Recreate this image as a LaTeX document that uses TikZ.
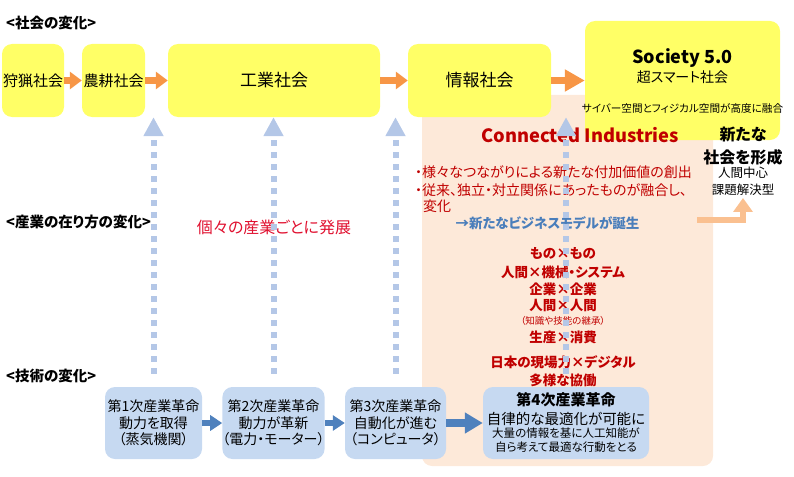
\documentclass[tikz,border=0pt]{standalone}
\usepackage{fontspec}
\setmainfont[RawFeature=+palt]{Noto Sans CJK JP}
\usepackage{tikz}
\usetikzlibrary{arrows.meta, positioning}
\definecolor{lemon}{HTML}{FFFF66}
\definecolor{peach}{HTML}{FDE9D9}
\definecolor{sky}{HTML}{C6D9F1}
\definecolor{dotblue}{HTML}{B4C7E7}
\definecolor{flow}{HTML}{F79646}
\definecolor{paleflow}{HTML}{FAC090}
\definecolor{steel}{HTML}{4F81BD}
\definecolor{darkred}{HTML}{C00000}
\definecolor{brightred}{HTML}{E0102F}
\definecolor{bizblue}{HTML}{4A7EBB}
\newcommand{\fsz}[2]{\fontsize{#1}{#2}\selectfont}
\tikzset{
  society/.style={rectangle, fill=lemon, rounded corners=10pt, align=center, minimum height=73pt, inner sep=0pt, font=\fsz{15}{18}},
  tech/.style={rectangle, fill=sky, rounded corners=10pt, align=center, minimum width=97pt, minimum height=72pt, inner sep=0pt, font=\fsz{14}{16.5}},
  heading/.style={anchor=west, inner sep=0pt, font=\fsz{14.5}{17}\bfseries},
  plain/.style={inner sep=0pt, align=center},
  cross/.style={inner sep=0pt, font=\fsz{13.5}{15}\bfseries, text=darkred},
  bullet/.style={anchor=west, inner sep=0pt, font=\fsz{14}{15}, text=darkred},
  flowarrow/.style={-{Triangle[length=12pt,width=17pt]}, line width=7pt, draw=flow},
  techarrow/.style={-{Triangle[length=12pt,width=15pt]}, line width=6pt, draw=steel},
  dotarrow/.style={-{Triangle[length=19pt,width=19pt]}, line width=6pt, draw=dotblue, dash pattern=on 6pt off 6pt},
  bentarrow/.style={-{Triangle[length=14pt,width=19pt]}, line width=6pt, draw=paleflow},
}
\begin{document}
\begin{tikzpicture}[x=1pt, y=-1pt]
  \useasboundingbox (0,0) rectangle (794,476);
  \fill[peach, rounded corners=10pt] (422,95) rectangle (713,466);
  \node[heading] (h1) at (6,23) {<社会の変化>};
  \node[heading] (h2) at (6,222) {<産業の在り方の変化>};
  \node[heading] (h3) at (6,376) {<技術の変化>};
  \node[society, minimum width=62pt] (hunt) at (33,80.5) {狩猟社会};
  \node[society, minimum width=63pt] (agri) at (113.5,80.5) {農耕社会};
  \node[society, minimum width=212pt, font=\fsz{17}{20}] (ind) at (274,80.5) {工業社会};
  \node[society, minimum width=143pt, font=\fsz{17}{20}] (info) at (479.5,80.5) {情報社会};
  \node[society, minimum width=195pt, minimum height=119pt] (soc) at (682.5,80.5) {};
  \node[plain, font=\fsz{18}{20}\bfseries] (soctitle) at (682.5,58) {Society 5.0};
  \node[plain, font=\fsz{14}{16}] (socsub) at (682.5,77) {超スマート社会};
  \node[plain, font=\fsz{10.6}{13}] (socnote) at (682.5,108) {サイバー空間とフィジカル空間が高度に融合};
  \node[tech] (t1) at (153.5,423) {第1次産業革命\\動力を取得\\（蒸気機関）};
  \node[tech] (t2) at (273.5,423) {第2次産業革命\\動力が革新\\（電力・モーター）};
  \node[tech, minimum width=101pt] (t3) at (395.5,423) {第3次産業革命\\自動化が進む\\（コンピュータ）};
  \node[tech, minimum width=166pt] (t4) at (566,423) {};
  \node[plain, font=\fsz{15}{16}\bfseries] (t4a) at (566,400) {第4次産業革命};
  \node[plain, font=\fsz{14.5}{16}] (t4b) at (566,419) {自律的な最適化が可能に};
  \node[plain, font=\fsz{11.5}{14}] (t4c) at (566,440) {大量の情報を基に人工知能が\\自ら考えて最適な行動をとる};
  \node[plain, font=\fsz{16}{18}, text=brightred] (each) at (274,227) {個々の産業ごとに発展};
  \node[plain, font=\fsz{18.3}{22}\bfseries, text=darkred] (ci) at (580,135) {Connected Industries};
  \node[bullet] (b1) at (415,172) {・様々なつながりによる新たな付加価値の創出};
  \node[bullet] (b2) at (415,190) {・従来、独立・対立関係にあったものが融合し、};
  \node[bullet] (b3) at (423,206) {変化};
  \node[plain, font=\fsz{13.5}{15}\bfseries, text=bizblue] (newbiz) at (547.5,223) {→新たなビジネスモデルが誕生};
  \node[cross] (c1) at (563,253) {もの×もの};
  \node[cross] (c2) at (563,272) {人間×機械・システム};
  \node[cross] (c3) at (563,289) {企業×企業};
  \node[cross] (c4) at (563,306) {人間×人間};
  \node[cross, font=\fsz{9.5}{11}] (c5) at (563,321) {（知識や技能の継承）};
  \node[cross] (c6) at (563,337) {生産×消費};
  \node[cross] (c7) at (563,362) {日本の現場力×デジタル};
  \node[cross] (c8) at (563,380) {多様な協働};
  \node[plain, font=\fsz{16}{18}\bfseries] (new1) at (743,135) {新たな};
  \node[plain, font=\fsz{16}{18}\bfseries] (new2) at (743,157) {社会を形成};
  \node[plain, font=\fsz{12.5}{14}] (human) at (743,173) {人間中心};
  \node[plain, font=\fsz{12.5}{14}] (kadai) at (743,190) {課題解決型};
  \coordinate (bendfrom) at (697,220);
  \foreach \t in {t1,t2,t3,t4}
    \draw[dotarrow] ([yshift=13pt]\t.north) -- (\t.north |- hunt.south);
  \draw[flowarrow] (hunt) -- (agri);
  \draw[flowarrow] (agri) -- (ind);
  \draw[flowarrow] (ind) -- (info);
  \draw[flowarrow, -{Triangle[length=20pt,width=21pt]}] (info) -- (soc);
  \draw[techarrow] (t1) -- (t2);
  \draw[techarrow] (t2) -- (t3);
  \draw[techarrow, line width=8pt, -{Triangle[length=18pt,width=20pt]}] (t3) -- (t4);
  \draw[bentarrow] (bendfrom) -| ([yshift=-2pt]kadai.south);
\end{tikzpicture}
\end{document}
